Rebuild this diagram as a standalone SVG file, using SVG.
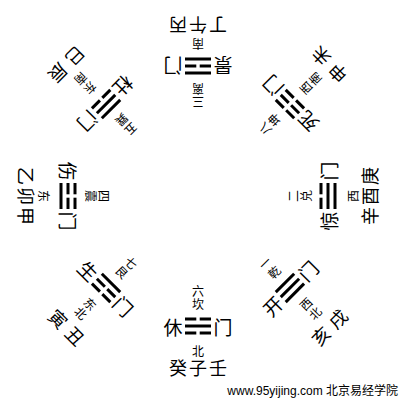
<svg xmlns="http://www.w3.org/2000/svg" xmlns:xlink="http://www.w3.org/1999/xlink" width="400" height="400" viewBox="0 0 400 400">
<style>
text{font-family:"Noto Sans CJK SC","Liberation Sans",sans-serif;fill:#000;text-anchor:middle;dominant-baseline:central}
.s{font-size:12px}
.g{font-size:19px}
.m{font-size:18px}
.w{font-family:"Liberation Sans","Noto Sans CJK SC",sans-serif;font-size:12px;text-anchor:end;dominant-baseline:auto}
</style>
<defs>
<rect id="yang" x="-13" y="-1.5" width="26" height="3" fill="#000"/>
<g id="yin" fill="#000"><rect x="-13" y="-1.5" width="11.3" height="3"/><rect x="1.7" y="-1.5" width="11.3" height="3"/></g>
</defs>
<rect width="400" height="400" fill="#fff"/>

<g id="kan-north" transform="rotate(0 198 196)">
<text class="s" x="198" y="290">六</text><text class="s" x="198" y="303">坎</text>
<use href="#yin" x="198" y="319"/><use href="#yang" x="198" y="326"/><use href="#yin" x="198" y="333"/>
<text class="g" x="173" y="326">休</text><text class="g" x="223" y="326">门</text>
<text class="s" x="198" y="350">北</text>
<text class="m" x="178" y="367">癸</text><text class="m" x="198" y="367">子</text><text class="m" x="218" y="367">壬</text>
</g>

<g id="gen-northeast" transform="rotate(45 198 196)">
<text class="s" x="198" y="290">七</text><text class="s" x="198" y="303">艮</text>
<use href="#yang" x="198" y="319"/><use href="#yin" x="198" y="326"/><use href="#yin" x="198" y="333"/>
<text class="g" x="173" y="326">生</text><text class="g" x="223" y="326">门</text>
<text class="s" x="198" y="348">东</text><text class="s" x="198" y="361">北</text>
<text class="m" x="186" y="381">寅</text><text class="m" x="210" y="381">丑</text>
</g>

<g id="zhen-east" transform="rotate(90 198 196)">
<text class="s" x="198" y="290">四</text><text class="s" x="198" y="303">震</text>
<use href="#yin" x="198" y="319"/><use href="#yin" x="198" y="326"/><use href="#yang" x="198" y="333"/>
<text class="g" x="173" y="326">伤</text><text class="g" x="223" y="326">门</text>
<text class="s" x="198" y="350">东</text>
<text class="m" x="178" y="367">乙</text><text class="m" x="198" y="367">卯</text><text class="m" x="218" y="367">甲</text>
</g>

<g id="xun-southeast" transform="rotate(135 198 196)">
<text class="s" x="198" y="290">五</text><text class="s" x="198" y="303">巽</text>
<use href="#yang" x="198" y="319"/><use href="#yang" x="198" y="326"/><use href="#yin" x="198" y="333"/>
<text class="g" x="173" y="326">杜</text><text class="g" x="223" y="326">门</text>
<text class="s" x="198" y="348">东</text><text class="s" x="198" y="361">南</text>
<text class="m" x="186" y="381">巳</text><text class="m" x="210" y="381">辰</text>
</g>

<g id="li-south" transform="rotate(180 198 196)">
<text class="s" x="198" y="290">三</text><text class="s" x="198" y="303">离</text>
<use href="#yang" x="198" y="319"/><use href="#yin" x="198" y="326"/><use href="#yang" x="198" y="333"/>
<text class="g" x="173" y="326">景</text><text class="g" x="223" y="326">门</text>
<text class="s" x="198" y="348">南</text>
<text class="m" x="178" y="366">丁</text><text class="m" x="198" y="366">午</text><text class="m" x="218" y="366">丙</text>
</g>

<g id="kun-southwest" transform="rotate(225 198 196)">
<text class="s" x="198" y="290">八</text><text class="s" x="198" y="303">坤</text>
<use href="#yin" x="198" y="319"/><use href="#yin" x="198" y="326"/><use href="#yin" x="198" y="333"/>
<text class="g" x="173" y="326">死</text><text class="g" x="223" y="326">门</text>
<text class="s" x="198" y="348">西</text><text class="s" x="198" y="361">南</text>
<text class="m" x="186" y="381">申</text><text class="m" x="210" y="381">未</text>
</g>

<g id="dui-west" transform="rotate(270 198 196)">
<text class="s" x="198" y="290">二</text><text class="s" x="198" y="303">兑</text>
<use href="#yin" x="198" y="319"/><use href="#yang" x="198" y="326"/><use href="#yang" x="198" y="333"/>
<text class="g" x="173" y="326">惊</text><text class="g" x="223" y="326">门</text>
<text class="s" x="198" y="350">西</text>
<text class="m" x="178" y="367">辛</text><text class="m" x="198" y="367">酉</text><text class="m" x="218" y="367">庚</text>
</g>

<g id="qian-northwest" transform="rotate(315 198 196)">
<text class="s" x="198" y="290">一</text><text class="s" x="198" y="303">乾</text>
<use href="#yang" x="198" y="319"/><use href="#yang" x="198" y="326"/><use href="#yang" x="198" y="333"/>
<text class="g" x="173" y="326">开</text><text class="g" x="223" y="326">门</text>
<text class="s" x="198" y="348">西</text><text class="s" x="198" y="361">北</text>
<text class="m" x="186" y="381">亥</text><text class="m" x="210" y="381">戌</text>
</g>

<g id="connectors"></g>

<text id="watermark" class="w" x="398" y="395">www.95yijing.com 北京易经学院</text>
</svg>
